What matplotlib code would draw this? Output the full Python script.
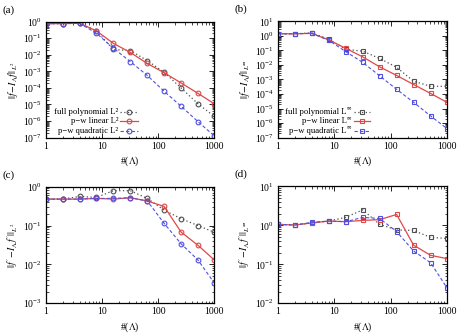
import matplotlib
matplotlib.use("Agg")
import matplotlib.pyplot as plt
from matplotlib.lines import Line2D
from matplotlib.ticker import LogLocator, NullFormatter, FixedLocator, FixedFormatter

plt.rcParams["font.family"] = ["Liberation Serif", "DejaVu Serif"]
plt.rcParams["mathtext.fontset"] = "stix"

# number of basis functions #(Lambda)
n = [1, 2, 4, 8, 16, 32, 64, 128, 256, 512, 1000]

# (a) L2 error of f
a_full = [0.76, 0.77, 0.82, 0.28, 0.021, 0.018, 0.0045, 8.7e-4, 1.0e-4, 1.1e-5, 1.9e-6]
a_lin = [0.76, 0.77, 0.80, 0.28, 0.049, 0.014, 0.0030, 8.3e-4, 2.0e-4, 4.7e-5, 1.1e-5]
a_quad = [0.76, 0.77, 0.80, 0.20, 0.025, 0.0039, 5.7e-4, 6.3e-5, 7.8e-6, 9.2e-7, 1.26e-7]

# (b) Linf error of f
b_full = [1.4, 1.4, 1.6, 0.6, 0.12, 0.089, 0.028, 0.0069, 7.6e-4, 3.4e-4, 3.4e-4]
b_lin = [1.4, 1.4, 1.5, 0.53, 0.14, 0.036, 0.0074, 0.0019, 4.5e-4, 1.1e-4, 2.7e-5]
b_quad = [1.4, 1.4, 1.5, 0.5, 0.083, 0.015, 0.0018, 2.1e-4, 2.7e-5, 3.1e-6, 4.2e-7]

# (c) L2 error of f'
c_full = [0.48, 0.48, 0.56, 0.53, 0.79, 0.79, 0.50, 0.25, 0.15, 0.10, 0.067]
c_lin = [0.48, 0.48, 0.48, 0.50, 0.48, 0.52, 0.43, 0.31, 0.068, 0.031, 0.013]
c_quad = [0.48, 0.48, 0.48, 0.50, 0.50, 0.52, 0.43, 0.114, 0.034, 0.013, 0.0033]

# (d) Linf error of f'
d_full = [1.06, 1.02, 1.15, 1.29, 1.6, 2.5, 1.06, 0.76, 0.74, 0.49, 0.46]
d_lin = [1.06, 1.02, 1.15, 1.29, 1.24, 1.34, 1.4, 1.9, 0.31, 0.17, 0.14]
d_quad = [1.06, 1.02, 1.19, 1.29, 1.24, 1.6, 1.5, 0.69, 0.22, 0.11, 0.025]

c_black = "#505050"
c_red = "#e04848"
c_blue = "#5050e0"

fig = plt.figure(figsize=(4.57, 3.34), dpi=100)

panels = [
    ("(a)", [0.100, 0.588, 0.369, 0.347], (a_full, a_lin, a_quad), "o", (1e-7, 1), "2",
     r"$||f\!-\!I_\Lambda f||_{L^2}$", (0.43, 0.441, 0.548)),
    ("(b)", [0.608, 0.588, 0.370, 0.348], (b_full, b_lin, b_quad), "s", (1e-7, 10), "\u221e",
     r"$||f\!-\!I_\Lambda f||_{L^\infty}$", (0.438, 0.452, 0.545)),
    ("(c)", [0.100, 0.092, 0.369, 0.349], (c_full, c_lin, c_quad), "o", (1e-3, 1), "2",
     r"$||f'\!-\!I_\Lambda f'||_{L^2}$", None),
    ("(d)", [0.608, 0.092, 0.370, 0.350], (d_full, d_lin, d_quad), "s", (1e-2, 10), "\u221e",
     r"$||f'\!-\!I_\Lambda f'||_{L^\infty}$", None),
]

styles = [
    dict(linestyle=(0, (1, 2)), color=c_black, lw=0.9),
    dict(linestyle="-", color=c_red, lw=0.9),
    dict(linestyle=(0, (3, 2)), color=c_blue, lw=0.8),
]
names = ["full polynomial", "p\u2212w linear", "p\u2212w quadratic"]
rows = [0.222, 0.14, 0.058]

for tag, rect, series, mk, ylim, norm, ylab, leg in panels:
    ax = fig.add_axes(rect)
    ms = 3.4
    for y, st in zip(series, styles):
        ax.plot(n, y, marker=mk, ms=ms, mfc="none", mew=0.8, **st)
    ax.set_xscale("log")
    ax.set_yscale("log")
    ax.set_xlim(1, 1000)
    ax.set_ylim(*ylim)
    ax.xaxis.set_major_locator(FixedLocator([1, 10, 100, 1000]))
    ax.xaxis.set_major_formatter(FixedFormatter(["1", "10", "100", "1000"]))
    ax.xaxis.set_minor_locator(LogLocator(base=10, subs=range(2, 10), numticks=20))
    ax.xaxis.set_minor_formatter(NullFormatter())
    ax.yaxis.set_major_locator(LogLocator(base=10, numticks=20))
    ax.yaxis.set_minor_locator(LogLocator(base=10, subs=range(2, 10), numticks=20))
    ax.yaxis.set_minor_formatter(NullFormatter())
    ax.tick_params(which="both", direction="in", top=True, right=True, labelsize=7, pad=3)
    ax.tick_params(which="major", length=3.5, width=0.6)
    ax.tick_params(which="minor", length=1.8, width=0.5)
    for s in ax.spines.values():
        s.set_linewidth(0.9)
    ax.set_xlabel(r"#($\Lambda$)", fontsize=7, labelpad=3)
    ax.set_ylabel(ylab, fontsize=7, labelpad=2)
    if leg is not None:
        xt, x0, x1 = leg
        for name, st, yr in zip(names, styles, rows):
            if norm == "2":
                ax.text(xt, yr, name + " L\u00b2", transform=ax.transAxes,
                        ha="right", va="center", fontsize=6.2)
            else:
                # superscript infinity drawn as a small raised text
                ax.text(xt - 0.03, yr, name + " L", transform=ax.transAxes,
                        ha="right", va="center", fontsize=6.2)
                ax.text(xt - 0.03, yr + 0.012, norm, transform=ax.transAxes,
                        ha="left", va="bottom", fontsize=4.3)
            ax.add_line(Line2D([x0, x1], [yr, yr], transform=ax.transAxes, **st))
            ax.add_line(Line2D([(x0 + x1) / 2], [yr], transform=ax.transAxes, marker=mk,
                               ms=ms, mfc="none", mew=0.8, color=st["color"], linestyle="none"))
    fig.text(rect[0] - 0.095, rect[1] + rect[3] + 0.035, tag, fontsize=8, va="center")

fig.savefig("out.png", dpi=100)
